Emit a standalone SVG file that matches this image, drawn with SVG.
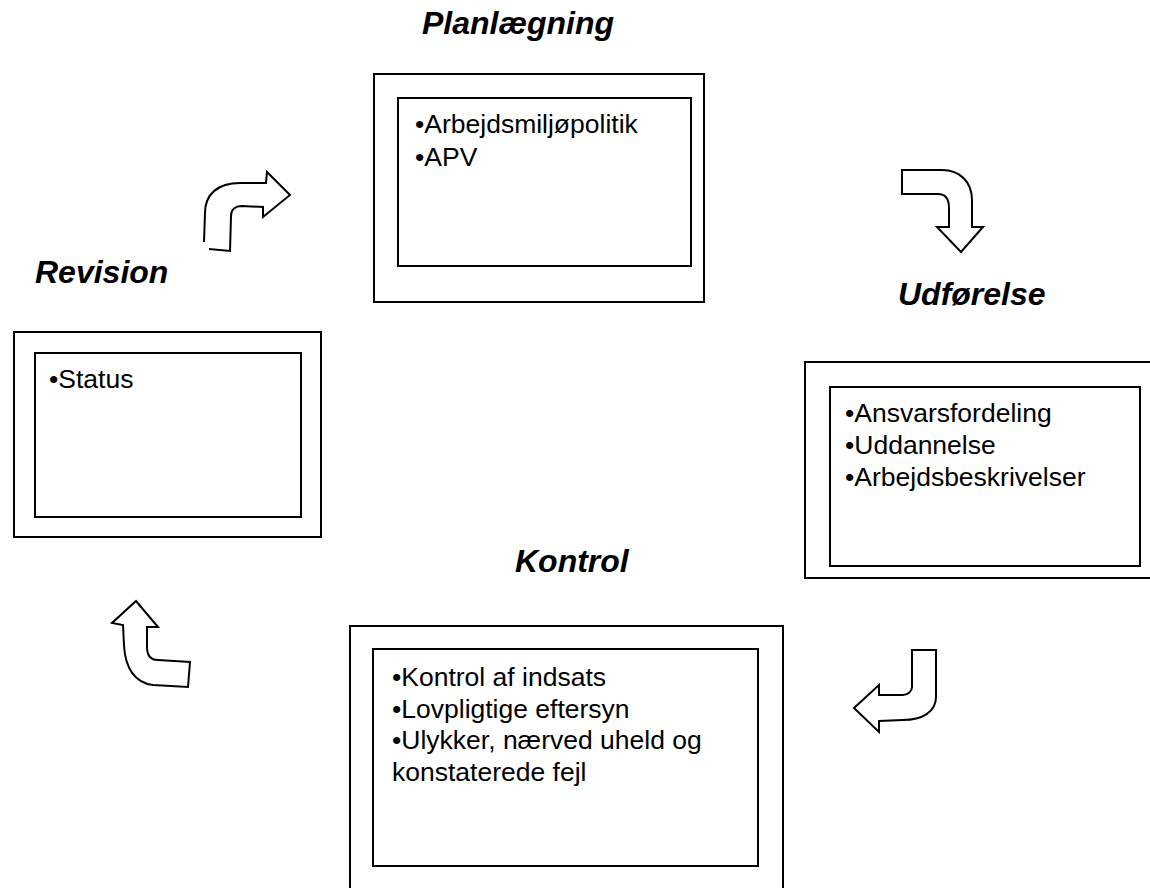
<svg xmlns="http://www.w3.org/2000/svg" width="1150" height="888" viewBox="0 0 1150 888">
<style>
.box{fill:#fff;stroke:#000;stroke-width:2}
.title{font-family:"Liberation Sans",Arial,sans-serif;font-weight:bold;font-style:italic;font-size:32px;fill:#000}
.body{font-family:"Liberation Sans",Arial,sans-serif;font-size:26.5px;fill:#000}
.arrow{fill:#fff;stroke:#000;stroke-width:2;stroke-linejoin:miter}
</style>
<rect width="1150" height="888" fill="#fff"/>
<g id="planlaegning">
<text class="title" x="422" y="34">Planlægning</text>
<rect class="box" x="374" y="74" width="330" height="228"/>
<rect class="box" x="398" y="98" width="293" height="168"/>
<text class="body" x="415" y="133">•Arbejdsmiljøpolitik</text>
<text class="body" x="415" y="166">•APV</text>
</g>
<g id="udfoerelse">
<text class="title" x="898" y="305">Udførelse</text>
<rect class="box" x="805" y="362" width="347" height="216"/>
<rect class="box" x="830" y="387" width="310" height="179"/>
<text class="body" x="845" y="422">•Ansvarsfordeling</text>
<text class="body" x="845" y="454">•Uddannelse</text>
<text class="body" x="845" y="486">•Arbejdsbeskrivelser</text>
</g>
<g id="kontrol">
<text class="title" x="515" y="572">Kontrol</text>
<rect class="box" x="350" y="626" width="433" height="266"/>
<rect class="box" x="373" y="649" width="385" height="217"/>
<text class="body" x="392" y="686">•Kontrol af indsats</text>
<text class="body" x="392" y="718">•Lovpligtige eftersyn</text>
<text class="body" x="392" y="749">•Ulykker, nærved uheld og</text>
<text class="body" x="392" y="781">konstaterede fejl</text>
</g>
<g id="revision">
<text class="title" x="35" y="283">Revision</text>
<rect class="box" x="14" y="332" width="307" height="205"/>
<rect class="box" x="35" y="353" width="266" height="164"/>
<text class="body" x="49" y="388">•Status</text>
</g>
<g id="connectors">
<path class="arrow" d="M204,242 L205,213 C205,194 218,183 240,183 L266,183 L267,172 L290,195 L263,217 L263,207 L242,206 C235,206 231,210 231,216 L230,251 L209,249"/>
<path class="arrow" d="M902,170 L942,170 C960,170 972,182 972,200 L972,227 L983,227 L961,252 L937,227 L949,227 L949,208 C949,199 945,194 938,194 L902,194 Z"/>
<path class="arrow" d="M912,650 L936,650 L936,697 C936,712 922,720 903,720 L879,721 L879,732 L854,708 L879,685 L879,695 L903,695 C908,695 912,691 912,687 Z"/>
<path class="arrow" d="M136,601 L158,627 L147,627 L147,647 C147,655 150,660 158,660 L190,662 L188,687 L153,685 C135,683 125,668 124,645 L123,625 L112,623 Z"/>
</g>
</svg>
